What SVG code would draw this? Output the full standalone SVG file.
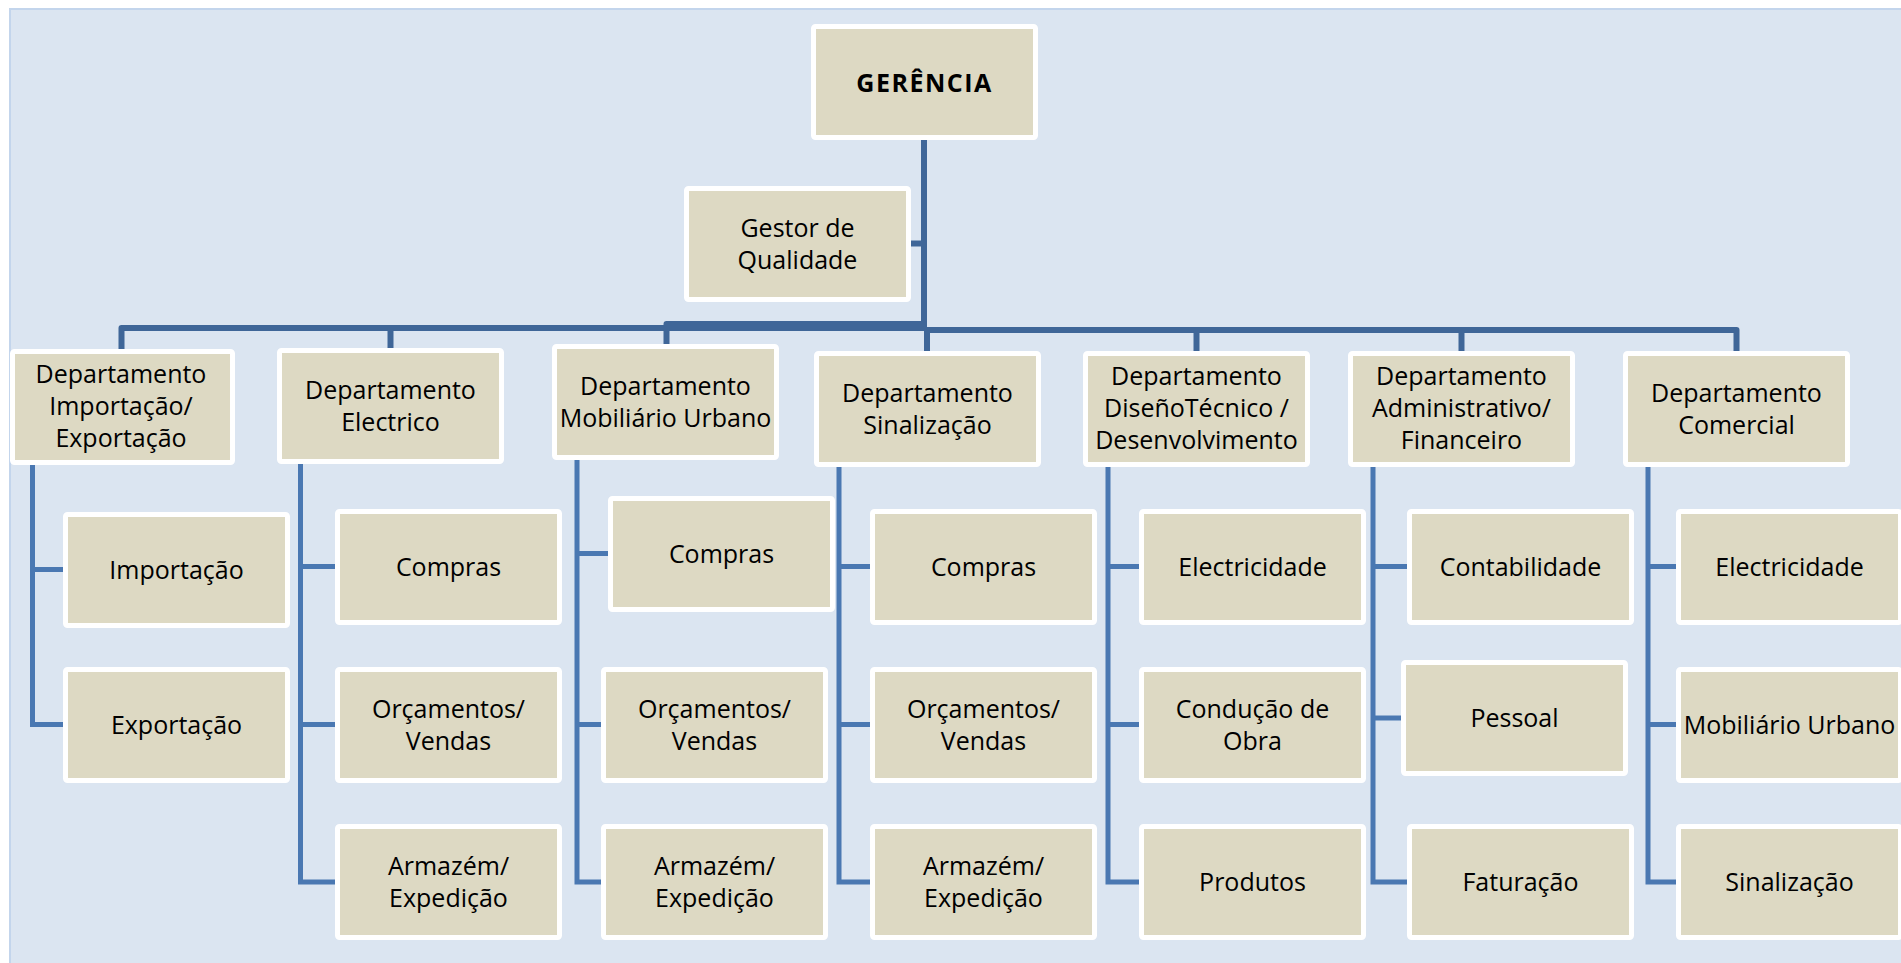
<svg xmlns="http://www.w3.org/2000/svg" width="1901" height="963" viewBox="0 0 1901 963">
  <style>
    .box { fill: #DDD9C3; stroke: #FFFFFF; stroke-width: 5; }
    .t { font-family: 'Open Sans', 'Noto Sans', sans-serif; font-size: 25px; fill: #000000; text-anchor: middle; }
    .b { font-weight: bold; letter-spacing: 1.5px; }
    .bus { fill: none; stroke: #3F6698; stroke-width: 6; stroke-linejoin: round; }
    .sub { fill: none; stroke: #4A78B2; stroke-width: 5; stroke-linejoin: miter; }
  </style>

  <!-- page background -->
  <rect x="0" y="0" width="1901" height="963" fill="#FFFFFF"/>
  <rect x="10" y="9" width="1892" height="956" fill="#DBE5F1" stroke="#C3D5EC" stroke-width="2"/>

  <!-- connectors -->
  <g id="connectors">
    <!-- management trunk and main bus -->
    <path class="bus" d="M924,140 V331"/>
    <path class="bus" d="M911,243.5 H924"/>
    <path class="bus" d="M121.5,349 V328 H924"/>
    <path class="bus" d="M390.5,348 V328"/>
    <path class="bus" d="M666.5,344 V324 H924"/>
    <path class="bus" d="M924,330 H1736.5 V351"/>
    <path class="bus" d="M927,351 V330"/>
    <path class="bus" d="M1196.5,351 V330"/>
    <path class="bus" d="M1461.5,351 V330"/>

    <!-- Importação/Exportação -->
    <path class="sub" d="M32.5,465 V724.5 H63"/>
    <path class="sub" d="M32.5,569.5 H63"/>
    <!-- Electrico -->
    <path class="sub" d="M300.5,464 V882 H335"/>
    <path class="sub" d="M300.5,566.5 H335"/>
    <path class="sub" d="M300.5,724.5 H335"/>
    <!-- Mobiliário Urbano -->
    <path class="sub" d="M577,460 V882 H601"/>
    <path class="sub" d="M577,553.5 H608"/>
    <path class="sub" d="M577,724.5 H601"/>
    <!-- Sinalização -->
    <path class="sub" d="M839,467 V882 H870"/>
    <path class="sub" d="M839,566.5 H870"/>
    <path class="sub" d="M839,724.5 H870"/>
    <!-- Diseño Técnico / Desenvolvimento -->
    <path class="sub" d="M1108,467 V882 H1139"/>
    <path class="sub" d="M1108,566.5 H1139"/>
    <path class="sub" d="M1108,724.5 H1139"/>
    <!-- Administrativo/Financeiro -->
    <path class="sub" d="M1373,467 V882 H1407"/>
    <path class="sub" d="M1373,566.5 H1407"/>
    <path class="sub" d="M1373,718 H1401"/>
    <!-- Comercial -->
    <path class="sub" d="M1648,467 V882 H1676"/>
    <path class="sub" d="M1648,566.5 H1676"/>
    <path class="sub" d="M1648,724.5 H1676"/>
  </g>

  <!-- top level -->
  <g id="gerencia">
    <rect class="box" x="813.5" y="26.5" width="222" height="111" rx="2"/>
    <text class="t b" x="924.5" y="92">GERÊNCIA</text>
  </g>
  <g id="gestor-qualidade">
    <rect class="box" x="686.5" y="188.5" width="222" height="111" rx="2"/>
    <text class="t" x="797.5" y="237">Gestor de</text>
    <text class="t" x="797.5" y="269">Qualidade</text>
  </g>

  <!-- departments -->
  <g id="dep-importacao">
    <rect class="box" x="12.5" y="351.5" width="220" height="111" rx="2"/>
    <text class="t" x="121" y="383">Departamento</text>
    <text class="t" x="121" y="415">Importação/</text>
    <text class="t" x="121" y="447">Exportação</text>
  </g>
  <g id="dep-electrico">
    <rect class="box" x="279.5" y="350.5" width="222" height="111" rx="2"/>
    <text class="t" x="390.5" y="399">Departamento</text>
    <text class="t" x="390.5" y="431">Electrico</text>
  </g>
  <g id="dep-mobiliario">
    <rect class="box" x="554.5" y="346.5" width="222" height="111" rx="2"/>
    <text class="t" x="665.5" y="395">Departamento</text>
    <text class="t" x="665.5" y="427">Mobiliário Urbano</text>
  </g>
  <g id="dep-sinalizacao">
    <rect class="box" x="816.5" y="353.5" width="222" height="111" rx="2"/>
    <text class="t" x="927.5" y="402">Departamento</text>
    <text class="t" x="927.5" y="434">Sinalização</text>
  </g>
  <g id="dep-desenho">
    <rect class="box" x="1085.5" y="353.5" width="222" height="111" rx="2"/>
    <text class="t" x="1196.5" y="385">Departamento</text>
    <text class="t" x="1196.5" y="417">DiseñoTécnico /</text>
    <text class="t" x="1196.5" y="449">Desenvolvimento</text>
  </g>
  <g id="dep-administrativo">
    <rect class="box" x="1350.5" y="353.5" width="222" height="111" rx="2"/>
    <text class="t" x="1461.5" y="385">Departamento</text>
    <text class="t" x="1461.5" y="417">Administrativo/</text>
    <text class="t" x="1461.5" y="449">Financeiro</text>
  </g>
  <g id="dep-comercial">
    <rect class="box" x="1625.5" y="353.5" width="222" height="111" rx="2"/>
    <text class="t" x="1736.5" y="402">Departamento</text>
    <text class="t" x="1736.5" y="434">Comercial</text>
  </g>

  <!-- Importação/Exportação sections -->
  <g id="importacao">
    <rect class="box" x="65.5" y="514.5" width="222" height="111" rx="2"/>
    <text class="t" x="176.5" y="579">Importação</text>
  </g>
  <g id="exportacao">
    <rect class="box" x="65.5" y="669.5" width="222" height="111" rx="2"/>
    <text class="t" x="176.5" y="734">Exportação</text>
  </g>

  <!-- Electrico sections -->
  <g id="electrico-compras">
    <rect class="box" x="337.5" y="511.5" width="222" height="111" rx="2"/>
    <text class="t" x="448.5" y="576">Compras</text>
  </g>
  <g id="electrico-orcamentos">
    <rect class="box" x="337.5" y="669.5" width="222" height="111" rx="2"/>
    <text class="t" x="448.5" y="718">Orçamentos/</text>
    <text class="t" x="448.5" y="750">Vendas</text>
  </g>
  <g id="electrico-armazem">
    <rect class="box" x="337.5" y="826.5" width="222" height="111" rx="2"/>
    <text class="t" x="448.5" y="875">Armazém/</text>
    <text class="t" x="448.5" y="907">Expedição</text>
  </g>

  <!-- Mobiliário Urbano sections -->
  <g id="mobiliario-compras">
    <rect class="box" x="610.5" y="498.5" width="222" height="111" rx="2"/>
    <text class="t" x="721.5" y="563">Compras</text>
  </g>
  <g id="mobiliario-orcamentos">
    <rect class="box" x="603.5" y="669.5" width="222" height="111" rx="2"/>
    <text class="t" x="714.5" y="718">Orçamentos/</text>
    <text class="t" x="714.5" y="750">Vendas</text>
  </g>
  <g id="mobiliario-armazem">
    <rect class="box" x="603.5" y="826.5" width="222" height="111" rx="2"/>
    <text class="t" x="714.5" y="875">Armazém/</text>
    <text class="t" x="714.5" y="907">Expedição</text>
  </g>

  <!-- Sinalização sections -->
  <g id="sinalizacao-compras">
    <rect class="box" x="872.5" y="511.5" width="222" height="111" rx="2"/>
    <text class="t" x="983.5" y="576">Compras</text>
  </g>
  <g id="sinalizacao-orcamentos">
    <rect class="box" x="872.5" y="669.5" width="222" height="111" rx="2"/>
    <text class="t" x="983.5" y="718">Orçamentos/</text>
    <text class="t" x="983.5" y="750">Vendas</text>
  </g>
  <g id="sinalizacao-armazem">
    <rect class="box" x="872.5" y="826.5" width="222" height="111" rx="2"/>
    <text class="t" x="983.5" y="875">Armazém/</text>
    <text class="t" x="983.5" y="907">Expedição</text>
  </g>

  <!-- Diseño Técnico / Desenvolvimento sections -->
  <g id="desenho-electricidade">
    <rect class="box" x="1141.5" y="511.5" width="222" height="111" rx="2"/>
    <text class="t" x="1252.5" y="576">Electricidade</text>
  </g>
  <g id="desenho-conducao">
    <rect class="box" x="1141.5" y="669.5" width="222" height="111" rx="2"/>
    <text class="t" x="1252.5" y="718">Condução de</text>
    <text class="t" x="1252.5" y="750">Obra</text>
  </g>
  <g id="desenho-produtos">
    <rect class="box" x="1141.5" y="826.5" width="222" height="111" rx="2"/>
    <text class="t" x="1252.5" y="891">Produtos</text>
  </g>

  <!-- Administrativo/Financeiro sections -->
  <g id="admin-contabilidade">
    <rect class="box" x="1409.5" y="511.5" width="222" height="111" rx="2"/>
    <text class="t" x="1520.5" y="576">Contabilidade</text>
  </g>
  <g id="admin-pessoal">
    <rect class="box" x="1403.5" y="662.5" width="222" height="111" rx="2"/>
    <text class="t" x="1514.5" y="727">Pessoal</text>
  </g>
  <g id="admin-faturacao">
    <rect class="box" x="1409.5" y="826.5" width="222" height="111" rx="2"/>
    <text class="t" x="1520.5" y="891">Faturação</text>
  </g>

  <!-- Comercial sections -->
  <g id="comercial-electricidade">
    <rect class="box" x="1678.5" y="511.5" width="222" height="111" rx="2"/>
    <text class="t" x="1789.5" y="576">Electricidade</text>
  </g>
  <g id="comercial-mobiliario">
    <rect class="box" x="1678.5" y="669.5" width="222" height="111" rx="2"/>
    <text class="t" x="1789.5" y="734">Mobiliário Urbano</text>
  </g>
  <g id="comercial-sinalizacao">
    <rect class="box" x="1678.5" y="826.5" width="222" height="111" rx="2"/>
    <text class="t" x="1789.5" y="891">Sinalização</text>
  </g>
</svg>
